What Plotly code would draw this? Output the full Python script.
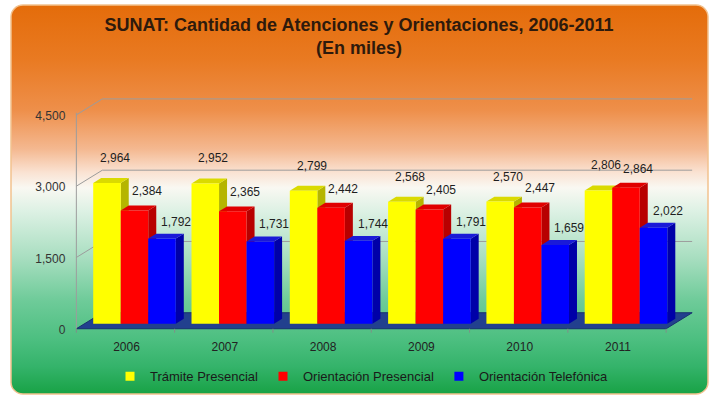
import base64
import plotly.graph_objects as go

# ---------------- data ----------------
years = ["2006", "2007", "2008", "2009", "2010", "2011"]
tramite_presencial = [2964, 2952, 2799, 2568, 2570, 2806]
orientacion_presencial = [2384, 2365, 2442, 2405, 2447, 2864]
orientacion_telefonica = [1792, 1731, 1744, 1791, 1659, 2022]
series_names = ["Trámite Presencial", "Orientación Presencial", "Orientación Telefónica"]
y_tick_values = [0, 1500, 3000, 4500]
title_line1 = "SUNAT: Cantidad de Atenciones y Orientaciones, 2006-2011"
title_line2 = "(En miles)"

# ---------------- layout constants ----------------
W, H = 709, 402
CAT_PX = 98.3          # pixels per category
X0_PX = 134.5          # pixel of category 0 centre (bar plane)
X_RANGE = [-0.5, 5.6]
PX_PER_UNIT = 0.048    # pixels per value unit
Y0_PX = 327            # pixel of value 0 (bar plane)
Y_RANGE = [-200, 4800]

dom_x = [(X0_PX + X_RANGE[0] * CAT_PX) / W, (X0_PX + X_RANGE[1] * CAT_PX) / W]
dom_y = [(H - (Y0_PX - Y_RANGE[0] * PX_PER_UNIT)) / H,
         (H - (Y0_PX - Y_RANGE[1] * PX_PER_UNIT)) / H]

BAR_W = 0.28
BAR_OFFSETS = [-0.42, -0.14, 0.14]
DEPTH_X = 8            # px
DEPTH_Y = 5            # px
front_colors = ["#FFFF00", "#FF0000", "#0000FF"]
side_colors = ["#B5B500", "#B80000", "#0000A8"]
top_colors = ["#DADA00", "#E00000", "#1A1AD8"]
label_shift = [(8, 25), (12, 19), (14, 17)]

# front plane / back wall offsets (pixels, y up)
FRONT = (-9, -5)
BACK = (17, 11)
SPAN_PX = 6 * CAT_PX

series_values = [tramite_presencial, orientacion_presencial, orientacion_telefonica]

# ---------------- background (gradient card) ----------------
svg = f'''<svg xmlns="http://www.w3.org/2000/svg" width="{W}" height="{H}" viewBox="0 0 {W} {H}">
<defs><linearGradient id="g" x1="0" y1="0" x2="0" y2="1">
<stop offset="0" stop-color="#E46C0A"/>
<stop offset="0.14" stop-color="#E97A22"/>
<stop offset="0.27" stop-color="#EE8F4A"/>
<stop offset="0.37" stop-color="#F4B890"/>
<stop offset="0.43" stop-color="#FAE2D2"/>
<stop offset="0.47" stop-color="#F9F8F2"/>
<stop offset="0.53" stop-color="#DDF1E4"/>
<stop offset="0.65" stop-color="#A8DEC0"/>
<stop offset="0.76" stop-color="#6ECB99"/>
<stop offset="0.86" stop-color="#4CBF80"/>
<stop offset="0.93" stop-color="#34B36A"/>
<stop offset="1" stop-color="#18A245"/>
</linearGradient></defs>
<rect width="{W}" height="{H}" fill="#FFFFFF"/>
<rect x="11" y="5" width="697" height="393" rx="12" ry="12" fill="url(#g)" stroke="#F2C28F" stroke-width="1.5"/>
</svg>'''
bg_src = "data:image/svg+xml;base64," + base64.b64encode(svg.encode("utf-8")).decode("ascii")

fig = go.Figure()

# ---------------- bars (front faces) ----------------
x_idx = list(range(len(years)))
for s, vals in enumerate(series_values):
    fig.add_trace(go.Bar(
        x=x_idx, y=vals, width=BAR_W, offset=BAR_OFFSETS[s],
        marker=dict(color=front_colors[s], line=dict(width=0)),
        name=series_names[s], showlegend=False, hoverinfo="skip"))

# legend proxies (small squares)
for s in range(3):
    fig.add_trace(go.Scatter(
        x=[None], y=[None], mode="markers", name=series_names[s],
        marker=dict(symbol="square", size=9, color=front_colors[s])))

shapes = []
frame_col = "#9C9C9C"
# floor slab
shapes.append(dict(
    type="path", layer="below", xref="x domain", yref="y",
    xsizemode="pixel", ysizemode="pixel", xanchor=0, yanchor=0,
    path=(f"M{FRONT[0]},{FRONT[1]} L{FRONT[0]+SPAN_PX},{FRONT[1]} "
          f"L{BACK[0]+SPAN_PX},{BACK[1]} L{BACK[0]},{BACK[1]} Z"),
    fillcolor="#22408E", line=dict(color="#18306E", width=1)))
# back-wall gridlines and left-wall diagonals
for v in y_tick_values[1:]:
    shapes.append(dict(type="line", layer="below", xref="x domain", yref="y",
                       xsizemode="pixel", ysizemode="pixel", xanchor=0, yanchor=v,
                       x0=BACK[0], x1=BACK[0] + SPAN_PX, y0=BACK[1], y1=BACK[1],
                       line=dict(color=frame_col, width=1)))
    shapes.append(dict(type="line", layer="below", xref="x domain", yref="y",
                       xsizemode="pixel", ysizemode="pixel", xanchor=0, yanchor=v,
                       x0=FRONT[0], x1=BACK[0], y0=FRONT[1], y1=BACK[1],
                       line=dict(color=frame_col, width=1)))
# front left axis line
shapes.append(dict(type="line", layer="below", xref="x domain", yref="y",
                   xsizemode="pixel", ysizemode="pixel", xanchor=0, yanchor=0,
                   x0=FRONT[0], x1=FRONT[0], y0=FRONT[1],
                   y1=FRONT[1] + y_tick_values[-1] * PX_PER_UNIT,
                   line=dict(color=frame_col, width=1)))
# category boundary ticks
for b in range(len(years) + 1):
    frac = (b - 0.5 - X_RANGE[0]) / (X_RANGE[1] - X_RANGE[0])
    shapes.append(dict(type="line", layer="below", xref="x domain", yref="y",
                       xsizemode="pixel", ysizemode="pixel", xanchor=frac, yanchor=0,
                       x0=FRONT[0], x1=FRONT[0], y0=FRONT[1], y1=FRONT[1] - 4,
                       line=dict(color="#7F8F88", width=1)))

# 3D side and top faces of each bar
bw_px = BAR_W * CAT_PX
dy_units = DEPTH_Y / PX_PER_UNIT
for i in x_idx:
    for s, vals in enumerate(series_values):
        v = vals[i]
        xl = i + BAR_OFFSETS[s]
        xr = xl + BAR_W
        shapes.append(dict(
            type="path", layer="below", xref="x", yref="y",
            xsizemode="pixel", xanchor=xr,
            path=f"M0,0 L{DEPTH_X},{dy_units} L{DEPTH_X},{v + dy_units} L0,{v} Z",
            fillcolor=side_colors[s], line=dict(width=0)))
        shapes.append(dict(
            type="path", layer="below", xref="x", yref="y",
            xsizemode="pixel", xanchor=xl,
            path=(f"M0,{v} L{bw_px},{v} L{bw_px + DEPTH_X},{v + dy_units} "
                  f"L{DEPTH_X},{v + dy_units} Z"),
            fillcolor=top_colors[s], line=dict(width=0)))

# data labels
annotations = []
for s, vals in enumerate(series_values):
    for i, v in enumerate(vals):
        annotations.append(dict(
            x=i + BAR_OFFSETS[s] + BAR_W / 2, y=v, xref="x", yref="y",
            text=f"{v:,}", showarrow=False,
            xshift=label_shift[s][0], yshift=label_shift[s][1],
            font=dict(family="Liberation Sans, Arial", size=12, color="#1E1E1E")))

fig.update_layout(
    width=W, height=H,
    margin=dict(l=0, r=0, t=0, b=0),
    paper_bgcolor="#FFFFFF", plot_bgcolor="rgba(0,0,0,0)",
    barmode="overlay",
    images=[dict(source=bg_src, xref="paper", yref="paper", x=0, y=1,
                 sizex=1, sizey=1, xanchor="left", yanchor="top",
                 sizing="stretch", layer="below")],
    title=dict(text=f"<b>{title_line1}<br>{title_line2}</b>",
               x=359 / W, xanchor="center", y=1 - 31 / H, yanchor="middle",
               yref="container",
               font=dict(family="Liberation Sans, Arial", size=18, color="#2E1A0C")),
    xaxis=dict(domain=dom_x, range=X_RANGE, tickvals=x_idx, ticktext=years,
               showgrid=False, zeroline=False, showline=False, ticks="",
               ticklabelshift=-8, ticklabelstandoff=5,
               tickfont=dict(family="Liberation Sans, Arial", size=12, color="#222222")),
    yaxis=dict(domain=dom_y, range=Y_RANGE, tickvals=y_tick_values,
               ticktext=[f"{v:,}" for v in y_tick_values],
               showgrid=False, zeroline=False, showline=False, ticks="",
               ticklabelshift=6, ticklabelstandoff=19,
               tickfont=dict(family="Liberation Sans, Arial", size=12, color="#333333")),
    legend=dict(orientation="h", x=362 / W, xanchor="center", y=(H - 380) / H,
                yanchor="middle", bgcolor="rgba(0,0,0,0)",
                font=dict(family="Liberation Sans, Arial", size=13, color="#1A1A1A"),
                itemwidth=30),
    shapes=shapes, annotations=annotations,
    showlegend=True,
)

fig.write_html("out.html", config={"displayModeBar": False},
               post_script="document.body.style.margin='0px';")
